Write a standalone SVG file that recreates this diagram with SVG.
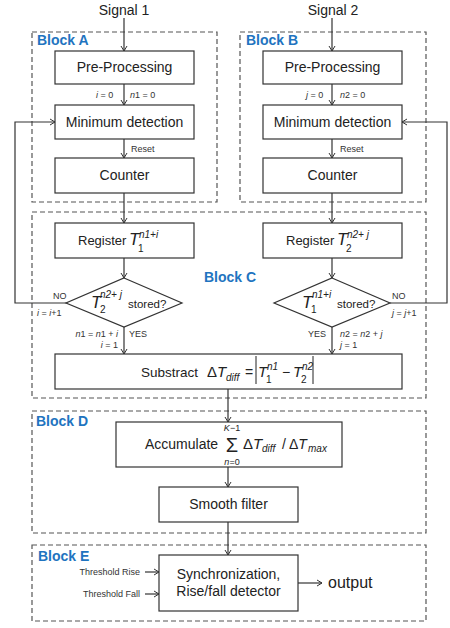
<svg xmlns="http://www.w3.org/2000/svg" width="450" height="628" viewBox="0 0 450 628">
<defs>
<marker id="ah" markerWidth="8" markerHeight="8" refX="6" refY="4" orient="auto" markerUnits="userSpaceOnUse">
<path d="M1,1 L6,4 L1,7" fill="none" stroke="#333" stroke-width="1"/>
</marker>
<style>
text{font-family:"Liberation Sans",Arial,sans-serif;fill:#222}
.box{fill:#fff;stroke:#333;stroke-width:1.2}
.blk{fill:none;stroke:#555;stroke-width:1.2;stroke-dasharray:5,3}
.bl{font-weight:bold;font-size:14px;fill:#1f74c0}
.t{font-size:14px;text-anchor:middle}
.s{font-size:9px;fill:#333}
.i{font-style:italic}
.c{fill:none;stroke:#333;stroke-width:1.2}
.a{marker-end:url(#ah)}
</style>
</defs>
<rect width="450" height="628" fill="#fff"/>

<g id="blockA"><rect class="blk" x="32" y="32" width="185" height="170"/><text class="bl" x="37" y="45">Block A</text></g>
<g id="blockB"><rect class="blk" x="240" y="32" width="186" height="170"/><text class="bl" x="246" y="45">Block B</text></g>
<g id="blockC"><rect class="blk" x="32" y="212" width="394" height="186"/><text class="bl" x="204" y="282">Block C</text></g>
<g id="blockD"><rect class="blk" x="32" y="411" width="394" height="122"/><text class="bl" x="36" y="426">Block D</text></g>
<g id="blockE"><rect class="blk" x="32" y="545" width="394" height="76"/><text class="bl" x="38" y="561">Block E</text></g>

<g id="connectors">
<line class="c a" x1="124" y1="18" x2="124" y2="51"/>
<line class="c a" x1="124" y1="84" x2="124" y2="105"/>
<line class="c a" x1="124" y1="139" x2="124" y2="158"/>
<line class="c a" x1="124" y1="193" x2="124" y2="223"/>
<line class="c a" x1="124" y1="258" x2="124" y2="278"/>
<line class="c a" x1="124" y1="327" x2="124" y2="354"/>
<polyline class="c a" points="67,303 15,303 15,122 55,122"/>
<line class="c a" x1="332" y1="18" x2="332" y2="51"/>
<line class="c a" x1="332" y1="84" x2="332" y2="105"/>
<line class="c a" x1="332" y1="139" x2="332" y2="158"/>
<line class="c a" x1="332" y1="193" x2="332" y2="223"/>
<line class="c a" x1="332" y1="258" x2="332" y2="278"/>
<line class="c a" x1="332" y1="327" x2="332" y2="354"/>
<polyline class="c a" points="390,303 447,303 447,122 402,122"/>
<line class="c a" x1="228" y1="389" x2="228" y2="422"/>
<line class="c a" x1="228" y1="467" x2="228" y2="487"/>
<line class="c a" x1="228" y1="522" x2="228" y2="555"/>
<line class="c a" x1="145" y1="572" x2="159" y2="572"/>
<line class="c a" x1="145" y1="594" x2="159" y2="594"/>
<line class="c a" x1="298" y1="583" x2="322" y2="583"/>
</g>

<g id="signal1"><text class="t" x="124" y="15">Signal 1</text></g>
<g id="signal2"><text class="t" x="333" y="15">Signal 2</text></g>

<g id="pre1"><rect class="box" x="55" y="51" width="139" height="33"/><text class="t" x="124.5" y="72">Pre-Processing</text></g>
<g id="min1"><rect class="box" x="55" y="105" width="139" height="34"/><text class="t" x="124.5" y="127">Minimum detection</text></g>
<g id="cnt1"><rect class="box" x="55" y="158" width="139" height="35"/><text class="t" x="124.5" y="180">Counter</text></g>
<g id="pre2"><rect class="box" x="263" y="51" width="139" height="33"/><text class="t" x="332.5" y="72">Pre-Processing</text></g>
<g id="min2"><rect class="box" x="263" y="105" width="139" height="34"/><text class="t" x="332.5" y="127">Minimum detection</text></g>
<g id="cnt2"><rect class="box" x="263" y="158" width="139" height="35"/><text class="t" x="332.5" y="180">Counter</text></g>

<g id="labelsA">
<text class="s" x="96" y="98"><tspan class="i">i</tspan> = 0</text>
<text class="s" x="130" y="98"><tspan class="i">n</tspan>1 = 0</text>
<text class="s" x="131" y="152">Reset</text>
</g>
<g id="labelsB">
<text class="s" x="306" y="98"><tspan class="i">j</tspan> = 0</text>
<text class="s" x="340" y="98"><tspan class="i">n</tspan>2 = 0</text>
<text class="s" x="340" y="152">Reset</text>
</g>

<g id="reg1"><rect class="box" x="55" y="223" width="139" height="35"/>
<text x="78" y="245" font-size="13">Register</text>
<text x="129" y="245" font-size="17" class="i">T</text>
<text x="139" y="238" font-size="10" class="i">n1+i</text>
<text x="138" y="252" font-size="10">1</text></g>
<g id="reg2"><rect class="box" x="263" y="223" width="139" height="35"/>
<text x="286" y="245" font-size="13">Register</text>
<text x="337" y="245" font-size="17" class="i">T</text>
<text x="347" y="238" font-size="10" class="i">n2+ j</text>
<text x="346" y="252" font-size="10">2</text></g>

<g id="dia1"><polygon class="box" points="124,278 182,303 124,327 66,303"/>
<text x="91" y="308" font-size="17" class="i">T</text>
<text x="100" y="298" font-size="10" class="i">n2+ j</text>
<text x="100" y="313" font-size="10">2</text>
<text x="128" y="308" font-size="11.5">stored?</text></g>
<g id="dia2"><polygon class="box" points="332,278 390,303 332,327 274,303"/>
<text x="302" y="308" font-size="17" class="i">T</text>
<text x="312" y="298" font-size="10" class="i">n1+i</text>
<text x="311" y="313" font-size="10">1</text>
<text x="337" y="308" font-size="11.5">stored?</text></g>

<g id="labelsC">
<text class="s" x="53" y="299">NO</text>
<text class="s" x="37" y="316"><tspan class="i">i</tspan> = <tspan class="i">i</tspan>+1</text>
<text class="s" x="118" y="337" text-anchor="end"><tspan class="i">n</tspan>1 = <tspan class="i">n</tspan>1 + <tspan class="i">i</tspan></text>
<text class="s" x="118" y="348" text-anchor="end"><tspan class="i">i</tspan> = 1</text>
<text class="s" x="129" y="337">YES</text>
<text class="s" x="392" y="299">NO</text>
<text class="s" x="392" y="316"><tspan class="i">j</tspan> = <tspan class="i">j</tspan>+1</text>
<text class="s" x="326" y="337" text-anchor="end">YES</text>
<text class="s" x="340" y="337"><tspan class="i">n</tspan>2 = <tspan class="i">n</tspan>2 + <tspan class="i">j</tspan></text>
<text class="s" x="340" y="348"><tspan class="i">j</tspan> = 1</text>
</g>

<g id="subtract"><rect class="box" x="55" y="354" width="347" height="35"/>
<text x="141" y="377" font-size="13.5">Substract</text>
<text x="207" y="377" font-size="15">Δ<tspan class="i">T</tspan></text>
<text x="226" y="381" font-size="10" class="i">diff</text>
<text x="245" y="377" font-size="14">=</text>
<line x1="256" y1="356" x2="256" y2="384" stroke="#222" stroke-width="1"/>
<text x="258" y="377" font-size="15" class="i">T</text>
<text x="267" y="370" font-size="10" class="i">n1</text>
<text x="266" y="383" font-size="10">1</text>
<text x="282" y="377" font-size="14">−</text>
<text x="293" y="377" font-size="15" class="i">T</text>
<text x="302" y="370" font-size="10" class="i">n2</text>
<text x="301" y="383" font-size="10">2</text>
<line x1="313" y1="356" x2="313" y2="384" stroke="#222" stroke-width="1"/></g>

<g id="accumulate"><rect class="box" x="116" y="422" width="226" height="45"/>
<text x="145" y="449" font-size="14">Accumulate</text>
<text x="232" y="452" font-size="20" text-anchor="middle">Σ</text>
<text x="232" y="431" font-size="9" text-anchor="middle"><tspan class="i">K</tspan>−1</text>
<text x="232" y="465" font-size="9" text-anchor="middle"><tspan class="i">n</tspan>=0</text>
<text x="243" y="449" font-size="15">Δ<tspan class="i">T</tspan></text>
<text x="262" y="452" font-size="10" class="i">diff</text>
<text x="282" y="449" font-size="14">/ Δ<tspan class="i">T</tspan></text>
<text x="308" y="452" font-size="10" class="i">max</text></g>

<g id="smooth"><rect class="box" x="159" y="487" width="139" height="35"/><text class="t" x="228.5" y="509">Smooth filter</text></g>

<g id="sync"><rect class="box" x="159" y="555" width="139" height="56"/>
<text class="t" x="228.5" y="579">Synchronization,</text>
<text class="t" x="228.5" y="596">Rise/fall detector</text></g>

<g id="labelsE">
<text class="s" x="140" y="575" text-anchor="end">Threshold Rise</text>
<text class="s" x="140" y="597" text-anchor="end">Threshold Fall</text>
<text x="328" y="588" font-size="16">output</text>
</g>
</svg>
